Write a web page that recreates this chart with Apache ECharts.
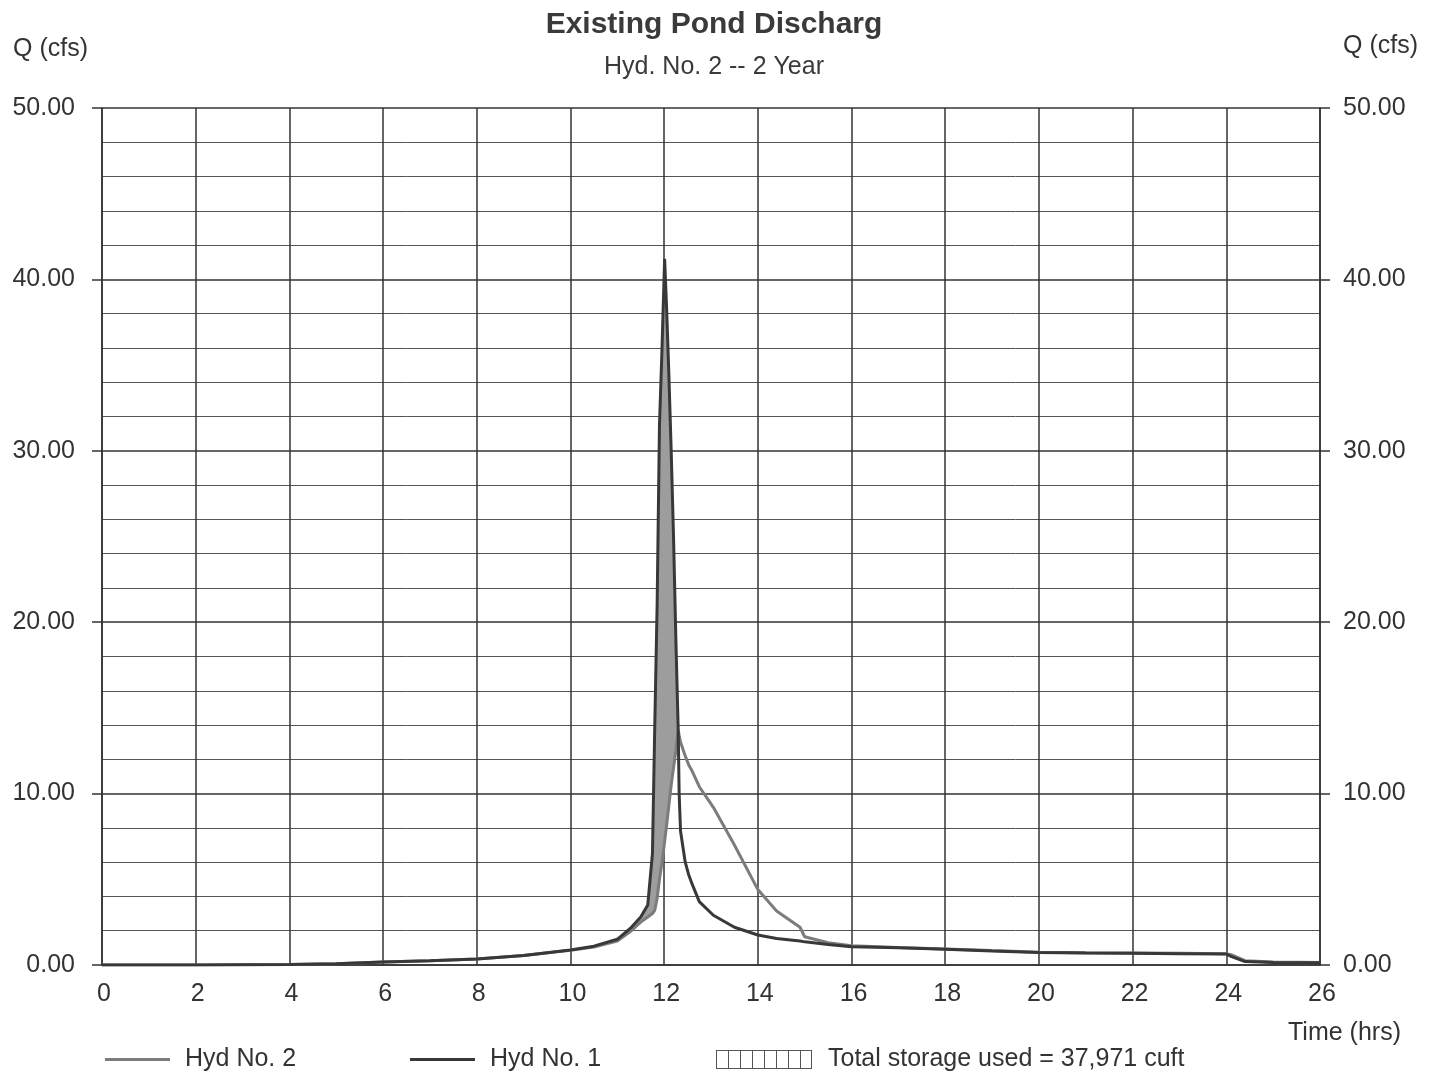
<!DOCTYPE html>
<html>
<head>
<meta charset="utf-8">
<title>Existing Pond Discharg</title>
<script src="https://cdn.jsdelivr.net/npm/echarts@6.0.0/dist/echarts.min.js"></script>
<style>
  html, body { margin: 0; padding: 0; background: #fff; }
  #chart { width: 1432px; height: 1074px; }
</style>
</head>
<body>
<div id="chart"></div>
<script>
// hydrograph time steps (hrs), shared by both hydrographs
var timeHrs = [0, 2, 4, 5, 6, 7, 8, 9, 10, 10.5, 11, 11.3, 11.5, 11.65, 11.75, 11.8, 11.85, 11.9, 11.95, 12.01,
  12.05, 12.1, 12.15, 12.2, 12.25, 12.3, 12.32, 12.35, 12.45, 12.52, 12.6, 12.75, 13.05, 13.5, 14.0, 14.4, 14.9,
  15.0, 15.5, 16, 17, 18, 19, 20, 21, 22, 23, 24, 24.1, 24.4, 25, 26];

// Hyd No. 1 - inflow (cfs)
var hyd1Flow = [0, 0, 0.03, 0.08, 0.17, 0.25, 0.35, 0.55, 0.88, 1.1, 1.5, 2.2, 2.8, 3.5, 6.5, 14, 21, 31.5, 35.6, 41.2,
  38.5, 34.5, 30, 25, 19, 13.7, 10, 7.8, 6.0, 5.3, 4.7, 3.7, 2.9, 2.2, 1.75, 1.55, 1.4,
  1.35, 1.2, 1.07, 1.0, 0.92, 0.82, 0.73, 0.7, 0.68, 0.66, 0.64, 0.5, 0.2, 0.15, 0.13];

// Hyd No. 2 - pond discharge (cfs)
var hyd2Flow = [0, 0, 0.03, 0.08, 0.17, 0.25, 0.35, 0.55, 0.86, 1.05, 1.4, 2.0, 2.5, 2.8, 3.0, 3.2, 3.9, 5.0, 5.9, 7.2,
  8.1, 9.3, 10.5, 11.5, 12.5, 13.7, 13.4, 13.0, 12.2, 11.7, 11.3, 10.4, 9.2, 7.0, 4.4, 3.15, 2.2,
  1.65, 1.3, 1.12, 1.02, 0.94, 0.84, 0.75, 0.72, 0.7, 0.68, 0.66, 0.6, 0.25, 0.18, 0.15];

// storage window (inflow above discharge)
var storeStart = 11.0 ;
var storeEnd = 12.3 ;
var storageLabel = 'Total storage used = 37,971 cuft' ;

var xTicks = { min: 0, max: 26, interval: 2 } ;
var yTicks = { min: 0, max: 50, interval: 10 } ;

var FONT = "'Liberation Sans', Arial, sans-serif" ;

function pairs(ts, vs) {
  var out = [] ;
  for (var i = 0; i < ts.length; i++) {
    out.push([ts[i], vs[i]]) ;
  }
  return out ;
}

// rows of [time, inflow, discharge] inside the storage window
var storeRows = [] ;
for (var i = 0; i < timeHrs.length; i++) {
  if (timeHrs[i] >= storeStart && timeHrs[i] <= storeEnd) {
    storeRows.push([timeHrs[i], hyd1Flow[i], hyd2Flow[i]]) ;
  }
}

// polygon between the two hydrographs, mapped through the chart's axes
function renderStorage(params, api) {
  if (params.dataIndex !== 0) {
    return null ;
  }
  var pts = [] ;
  for (var a = 0; a < storeRows.length; a++) {
    pts.push(api.coord([storeRows[a][0], storeRows[a][1]])) ;
  }
  for (var b = storeRows.length - 1; b >= 0; b--) {
    pts.push(api.coord([storeRows[b][0], storeRows[b][2]])) ;
  }
  return {
    type: 'polygon',
    shape: { points: pts },
    style: { fill: '#9d9d9d', stroke: '#8a8a8a', lineWidth: 1 }
  } ;
}

// hatched box used as legend icon for the storage
var boxPath = 'path://M0,0H96V1H0Z M0,18H96V19H0Z' ;
for (var k = 0; k <= 8; k++) {
  var bx = Math.min(k * 12, 95) ;
  boxPath += ' M' + bx + ',0H' + (bx + 1) + 'V19H' + bx + 'Z' ;
}

var yLabelFmt = function (v) { return v.toFixed(2) ; } ;

var chart = echarts.init(document.getElementById('chart'), null, { renderer: 'canvas' }) ;

var legendText = { fontSize: 25, color: '#333', fontFamily: FONT, padding: [0, 0, 0, 10] } ;

var option = {
  backgroundColor: '#ffffff',
  animation: false,
  textStyle: { fontFamily: FONT },
  title: [
    {
      text: 'Existing Pond Discharg',
      left: 709, top: 5, textAlign: 'center',
      textStyle: { fontSize: 30, fontWeight: 'bold', color: '#3a3a3a', fontFamily: FONT }
    },
    {
      text: 'Hyd. No. 2 -- 2 Year',
      left: 709, top: 50, textAlign: 'center',
      textStyle: { fontSize: 25, fontWeight: 'normal', color: '#3a3a3a', fontFamily: FONT }
    }
  ],
  legend: [
    {
      left: 105, top: 1047, padding: 0, itemWidth: 65, itemHeight: 3, icon: 'rect',
      data: ['Hyd No. 2'], textStyle: legendText
    },
    {
      left: 410, top: 1047, padding: 0, itemWidth: 65, itemHeight: 3, icon: 'rect',
      data: ['Hyd No. 1'], textStyle: legendText
    },
    {
      left: 716, top: 1047, padding: 0, itemWidth: 96, itemHeight: 19,
      data: [{ name: storageLabel, icon: boxPath, itemStyle: { color: '#555' } }],
      textStyle: { fontSize: 25, color: '#333', fontFamily: FONT, padding: [0, 0, 0, 11] }
    }
  ],
  grid: { left: 102, right: 112, top: 108, bottom: 109, containLabel: false },
  xAxis: {
    type: 'value',
    min: xTicks.min, max: xTicks.max, interval: xTicks.interval,
    axisLine: { show: true, lineStyle: { color: '#333', width: 1.5 } },
    axisTick: { show: false },
    axisLabel: { fontSize: 25, color: '#333', margin: 17, fontFamily: FONT, padding: [0, 0, 0, 4] },
    splitLine: { show: true, lineStyle: { color: '#333', width: 1.5 } }
  },
  yAxis: [
    {
      type: 'value', position: 'left',
      min: yTicks.min, max: yTicks.max, interval: yTicks.interval,
      name: 'Q (cfs)', nameLocation: 'end', nameGap: 46,
      nameTextStyle: { fontSize: 25, color: '#333', align: 'right', padding: [0, 14, 0, 0], fontFamily: FONT },
      axisLine: { show: true, lineStyle: { color: '#333', width: 1.5 } },
      axisTick: { show: true, length: 10, lineStyle: { color: '#333', width: 1.5 } },
      axisLabel: { fontSize: 25, color: '#333', margin: 27, formatter: yLabelFmt, fontFamily: FONT },
      splitLine: { show: true, lineStyle: { color: '#333', width: 1.5 } },
      minorTick: { show: false, splitNumber: 5 },
      minorSplitLine: { show: true, lineStyle: { color: '#555', width: 1 } }
    },
    {
      type: 'value', position: 'right',
      min: yTicks.min, max: yTicks.max, interval: yTicks.interval,
      name: 'Q (cfs)', nameLocation: 'end', nameGap: 49,
      nameTextStyle: { fontSize: 25, color: '#333', align: 'left', padding: [0, 0, 0, 23], fontFamily: FONT },
      axisLine: { show: true, lineStyle: { color: '#333', width: 1.5 } },
      axisTick: { show: true, length: 10, lineStyle: { color: '#333', width: 1.5 } },
      axisLabel: { fontSize: 25, color: '#333', margin: 23, formatter: yLabelFmt, fontFamily: FONT },
      splitLine: { show: false }
    }
  ],
  graphic: [
    {
      type: 'text', left: 1288, top: 1021, z: 10,
      style: { text: 'Time (hrs)', font: '25px ' + FONT, fill: '#333' }
    }
  ],
  series: [
    {
      name: storageLabel, type: 'custom', data: storeRows,
      encode: { x: 0, y: [1, 2] }, renderItem: renderStorage,
      silent: true, z: 1, clip: true,
      itemStyle: { color: '#9d9d9d' }
    },
    {
      name: 'Hyd No. 2', type: 'line', data: pairs(timeHrs, hyd2Flow),
      showSymbol: false, symbol: 'none', z: 3,
      itemStyle: { color: '#7c7c7c' },
      lineStyle: { color: '#7c7c7c', width: 3 }
    },
    {
      name: 'Hyd No. 1', type: 'line', data: pairs(timeHrs, hyd1Flow),
      showSymbol: false, symbol: 'none', z: 4,
      itemStyle: { color: '#383838' },
      lineStyle: { color: '#383838', width: 3 }
    }
  ]
} ;

chart.setOption(option) ;
</script>
</body>
</html>
